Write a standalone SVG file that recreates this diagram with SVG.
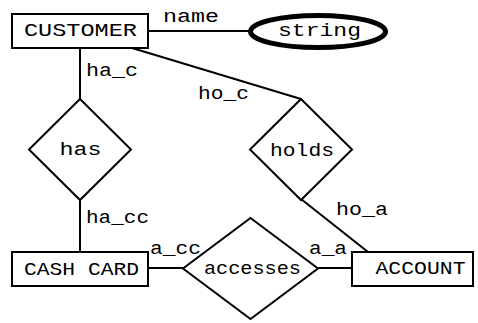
<svg xmlns="http://www.w3.org/2000/svg" width="478" height="323" viewBox="0 0 478 323">
<style>
  .shape { fill: #ffffff; stroke: #000000; stroke-width: 2; }
  .conn { fill: none; stroke: #000000; stroke-width: 2; }
  .t { font-family: "Liberation Mono", "DejaVu Sans Mono", monospace; font-size: 19px; fill: #000000; text-anchor: middle; }
</style>
<rect width="478" height="323" fill="#ffffff"/>
<g id="connectors">
  <line class="conn" x1="148" y1="31" x2="250" y2="31"/>
  <line class="conn" x1="80" y1="48" x2="80" y2="100"/>
  <line class="conn" x1="132" y1="48" x2="301" y2="99"/>
  <line class="conn" x1="80" y1="199" x2="80" y2="252"/>
  <line class="conn" x1="301" y1="199" x2="368" y2="252"/>
  <line class="conn" x1="148" y1="268" x2="183" y2="268"/>
  <line class="conn" x1="318" y1="268" x2="352" y2="268"/>
  <text class="t" x="191" y="22" textLength="56" lengthAdjust="spacingAndGlyphs">name</text>
  <text class="t" x="112" y="76" textLength="52" lengthAdjust="spacingAndGlyphs">ha_c</text>
  <text class="t" x="223.5" y="99" textLength="51" lengthAdjust="spacingAndGlyphs">ho_c</text>
  <text class="t" x="117.5" y="223" textLength="63" lengthAdjust="spacingAndGlyphs">ha_cc</text>
  <text class="t" x="362" y="215" textLength="52" lengthAdjust="spacingAndGlyphs">ho_a</text>
  <text class="t" x="175.5" y="254" textLength="51" lengthAdjust="spacingAndGlyphs">a_cc</text>
  <text class="t" x="328" y="254" textLength="38" lengthAdjust="spacingAndGlyphs">a_a</text>
</g>
<g id="customer">
  <rect class="shape" x="12" y="14" width="136" height="34"/>
  <text class="t" x="80.5" y="36" textLength="113" lengthAdjust="spacingAndGlyphs">CUSTOMER</text>
</g>
<g id="string">
  <ellipse cx="318" cy="31.5" rx="67.5" ry="16" fill="#ffffff" stroke="#000000" stroke-width="5"/>
  <text class="t" x="319.5" y="36" textLength="83" lengthAdjust="spacingAndGlyphs">string</text>
</g>
<g id="has">
  <polygon class="shape" points="80,99 131,149.5 80,200 29,149.5"/>
  <text class="t" x="80.5" y="155" textLength="42" lengthAdjust="spacingAndGlyphs">has</text>
</g>
<g id="holds">
  <polygon class="shape" points="301,99 352,149.5 301,200 250,149.5"/>
  <text class="t" x="302" y="156" textLength="64" lengthAdjust="spacingAndGlyphs">holds</text>
</g>
<g id="cash_card">
  <rect class="shape" x="12" y="252" width="136" height="34"/>
  <text class="t" x="81.5" y="275" textLength="115" lengthAdjust="spacingAndGlyphs">CASH CARD</text>
</g>
<g id="accesses">
  <polygon class="shape" points="250.5,218 318,268.5 250.5,319 183,268.5"/>
  <text class="t" x="252.5" y="274" textLength="97" lengthAdjust="spacingAndGlyphs">accesses</text>
</g>
<g id="account">
  <rect class="shape" x="352" y="252" width="121" height="34"/>
  <text class="t" x="420.5" y="274" textLength="90" lengthAdjust="spacingAndGlyphs">ACCOUNT</text>
</g>
</svg>
